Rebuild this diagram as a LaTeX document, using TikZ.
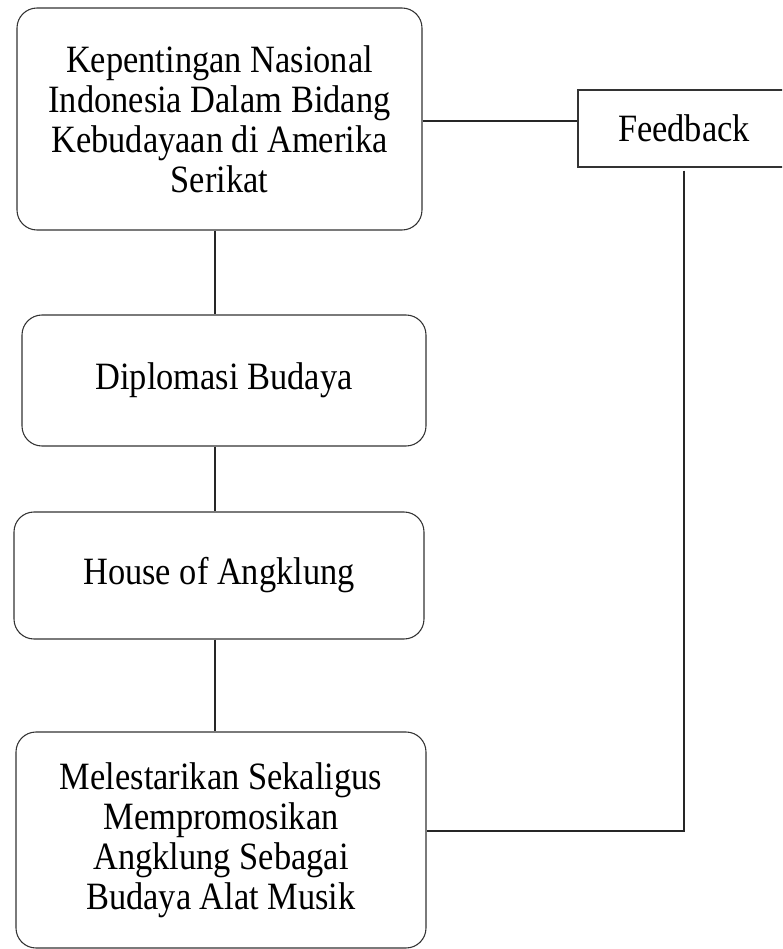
\documentclass[tikz,border=0pt]{standalone}
\usepackage{fontspec}
\setmainfont{Liberation Serif}[FakeStretch=0.89]
\usepackage{tikz}
\usetikzlibrary{positioning,calc}

\begin{document}
\begin{tikzpicture}[
  x=0.75pt, y=-0.75pt,
  stage/.style={draw=black!80, line width=0.8pt, rounded corners=15pt, fill=white,
    inner sep=0pt, align=center, font=\fontsize{29}{30}\selectfont},
  fbbox/.style={draw=black!80, line width=0.8pt, fill=white, inner sep=0pt,
    font=\fontsize{29}{30}\selectfont},
  link/.style={draw=black!85, line width=0.8pt}
]
  \clip (0,0) rectangle (782,949);
  \fill[white] (0,0) rectangle (782,949);
  \node[stage, minimum width=405*0.75pt, minimum height=222*0.75pt] (kepentingan) at (219.5,119)
    {Kepentingan Nasional\\Indonesia Dalam Bidang\\Kebudayaan di Amerika\\Serikat};
  \node[stage, minimum width=404*0.75pt, minimum height=131*0.75pt] (diplomasi) at (224,380.5)
    {Diplomasi Budaya};
  \node[stage, minimum width=410*0.75pt, minimum height=127*0.75pt] (house) at (219,575.5)
    {House of Angklung};
  \node[stage, minimum width=410*0.75pt, minimum height=216*0.75pt] (lestari) at (221,840)
    {Melestarikan Sekaligus\\Mempromosikan\\Angklung Sebagai\\Budaya Alat Musik};
  \node[fbbox, minimum width=212*0.75pt, minimum height=77*0.75pt] (feedback) at (684,128.5)
    {Feedback};
  % vertical chain
  \coordinate (c1) at ($(kepentingan.south)+(-4.5,0)$);
  \coordinate (c2) at ($(house.south)+(-4,0)$);
  \draw[link] (c1) -- (c1 |- diplomasi.north);
  \draw[link] (c1 |- diplomasi.south) -- (c1 |- house.north);
  \draw[link] (c2) -- (c2 |- lestari.north);
  % feedback loop
  \coordinate (fbout) at ($(kepentingan.east)+(0,2)$);
  \coordinate (fbtop) at ($(feedback.south)+(0,3)$);
  \coordinate (fbturn) at ($(lestari.east)+(0,-9)$);
  \draw[link] (fbout) -- (fbout -| feedback.west);
  \draw[link] (fbtop) -- (fbtop |- fbturn) -- (fbturn);
\end{tikzpicture}
\end{document}
